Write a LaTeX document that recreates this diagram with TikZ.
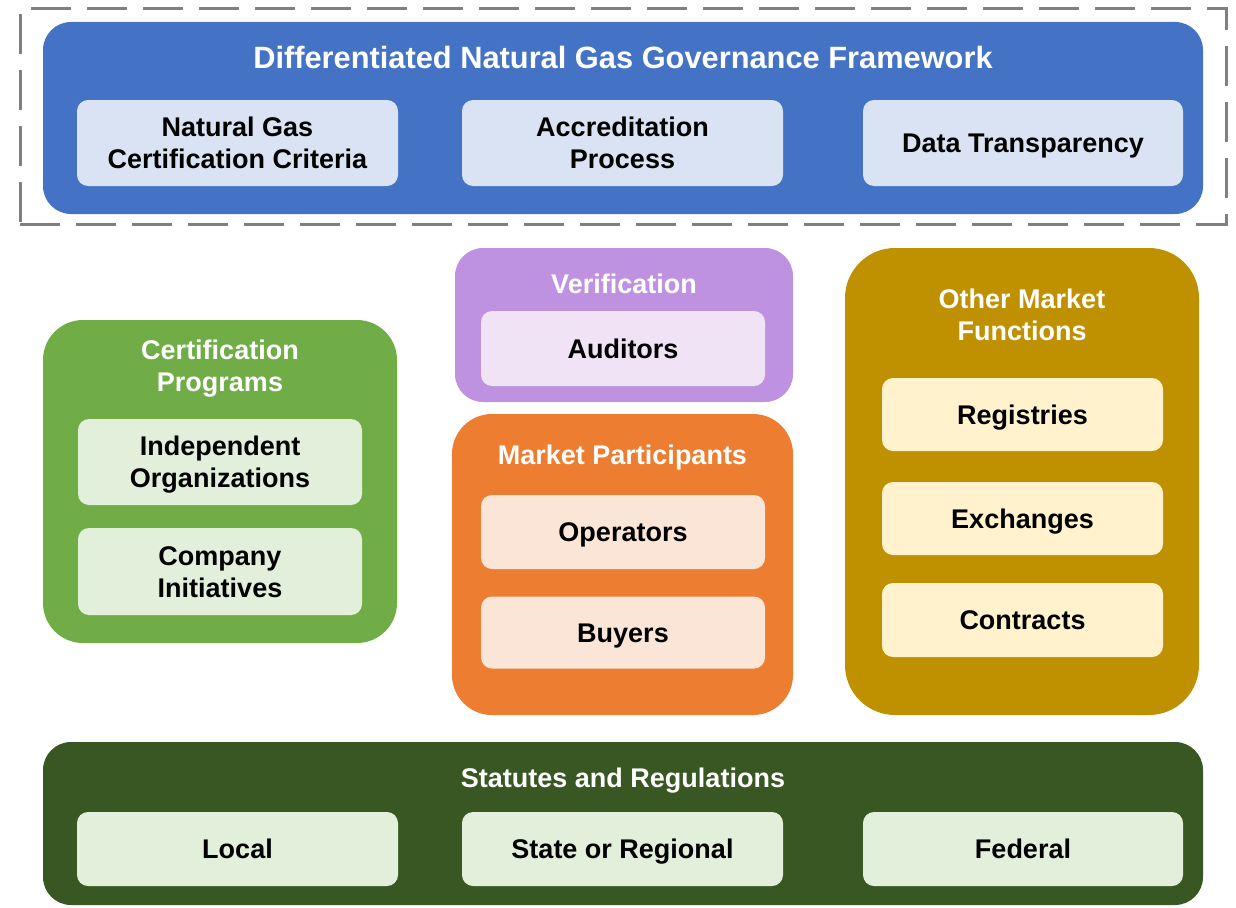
\documentclass[tikz,border=0pt]{standalone}
\usepackage{fontspec}
\setmainfont{Liberation Sans}
\definecolor{cblue}{HTML}{4472C4}
\definecolor{cblueL}{HTML}{DAE3F3}
\definecolor{cgreen}{HTML}{70AD47}
\definecolor{cgreenL}{HTML}{E2EFDA}
\definecolor{cpurple}{HTML}{BE92E0}
\definecolor{cpurpleL}{HTML}{EFE3F5}
\definecolor{corange}{HTML}{ED7D31}
\definecolor{corangeL}{HTML}{FBE5D6}
\definecolor{cgold}{HTML}{BF9000}
\definecolor{cgoldL}{HTML}{FFF2CC}
\definecolor{cdark}{HTML}{385723}
\definecolor{cdash}{HTML}{808080}
\tikzset{
  container/.style={rectangle, draw=none, inner sep=0pt},
  item/.style={rectangle, draw=none, rounded corners=11pt, inner sep=0pt, align=center,
     text=black, text height=19.5pt, text depth=0pt, font=\fontsize{27}{32}\selectfont\bfseries},
  grouptitle/.style={align=center, text=white, inner sep=0pt, text height=19.5pt, text depth=0pt,
     font=\fontsize{27}{32}\selectfont\bfseries},
  twolines/.style={text height=51.5pt, text depth=0pt},
  maintitle/.style={align=center, text=white, inner sep=0pt, text height=21.5pt, text depth=0pt,
     font=\fontsize{30.8}{36}\selectfont\bfseries},
  dashframe/.style={rectangle, draw=cdash, line width=3pt, dash pattern=on 40pt off 16pt, inner sep=0pt}
}
\begin{document}
\begin{tikzpicture}[x=1pt,y=-1pt]
\useasboundingbox (0,0) rectangle (1236,907);
% dashed frame
\node[dashframe, minimum width=1206pt, minimum height=215pt] (frame) at (623,116.5) {};
% Framework
\node[container, fill=cblue, rounded corners=28pt, minimum width=1160pt, minimum height=192pt] (fw) at (623,118) {};
\node[maintitle] (fwt) at (623,58) {Differentiated Natural Gas Governance Framework};
\node[item, twolines, fill=cblueL, minimum width=321pt, minimum height=86pt] (ngcc) at (237.5,143) {Natural Gas\\Certification Criteria};
\node[item, twolines, fill=cblueL, minimum width=321pt, minimum height=86pt] (acc) at (622.5,143) {Accreditation\\Process};
\node[item, fill=cblueL, minimum width=320pt, minimum height=86pt] (dt) at (1023,143) {Data Transparency};
% Certification programs
\node[container, fill=cgreen, rounded corners=40pt, minimum width=354pt, minimum height=323pt] (cp) at (220,481.5) {};
\node[grouptitle, twolines] (cpt) at (220,366) {Certification\\Programs};
\node[item, twolines, fill=cgreenL, minimum width=284pt, minimum height=86pt] (indep) at (220,462) {Independent\\Organizations};
\node[item, twolines, fill=cgreenL, minimum width=284pt, minimum height=87pt] (comp) at (220,571.5) {Company\\Initiatives};
% Verification
\node[container, fill=cpurple, rounded corners=28pt, minimum width=338pt, minimum height=154pt] (ver) at (624,325) {};
\node[grouptitle] (vert) at (624,284) {Verification};
\node[item, fill=cpurpleL, minimum width=284pt, minimum height=75pt] (aud) at (623,348.5) {Auditors};
% Market participants
\node[container, fill=corange, rounded corners=40pt, minimum width=341pt, minimum height=301pt] (mp) at (622.5,564.5) {};
\node[grouptitle] (mpt) at (622.5,455) {Market Participants};
\node[item, fill=corangeL, minimum width=284pt, minimum height=74pt] (op) at (623,532) {Operators};
\node[item, fill=corangeL, minimum width=284pt, minimum height=72pt] (buy) at (623,632.5) {Buyers};
% Other market functions
\node[container, fill=cgold, rounded corners=50pt, minimum width=354pt, minimum height=467pt] (om) at (1022,481.5) {};
\node[grouptitle, twolines] (omt) at (1022,315) {Other Market\\Functions};
\node[item, fill=cgoldL, minimum width=281pt, minimum height=73pt] (reg) at (1022.5,414.5) {Registries};
\node[item, fill=cgoldL, minimum width=281pt, minimum height=73pt] (exc) at (1022.5,518.5) {Exchanges};
\node[item, fill=cgoldL, minimum width=281pt, minimum height=74pt] (con) at (1022.5,620) {Contracts};
% Statutes
\node[container, fill=cdark, rounded corners=28pt, minimum width=1160pt, minimum height=163pt] (st) at (623,823.5) {};
\node[grouptitle] (stt) at (623,778) {Statutes and Regulations};
\node[item, fill=cgreenL, minimum width=321pt, minimum height=74pt] (loc) at (237.5,849) {Local};
\node[item, fill=cgreenL, minimum width=321pt, minimum height=74pt] (sor) at (622.5,849) {State or Regional};
\node[item, fill=cgreenL, minimum width=320pt, minimum height=74pt] (fed) at (1023,849) {Federal};
\end{tikzpicture}
\end{document}
